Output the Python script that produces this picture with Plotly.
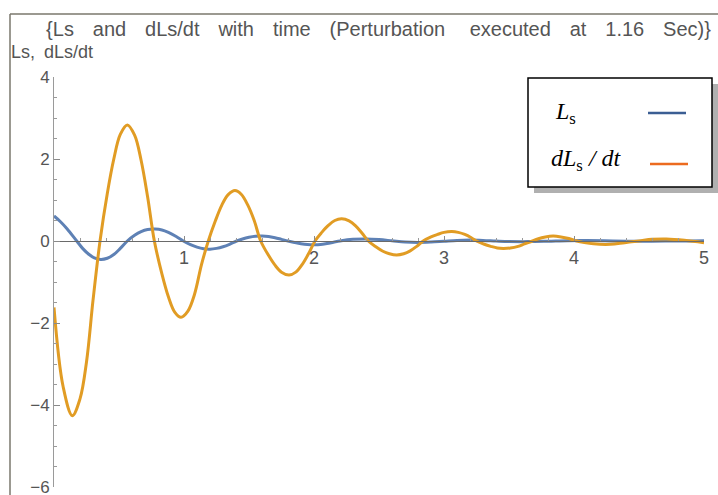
import plotly.graph_objects as go

# ---- data ----
t_ls = [0.0, 0.05, 0.10, 0.175, 0.22, 0.27, 0.31, 0.36, 0.41, 0.46, 0.51, 0.564,
        0.62, 0.67, 0.72, 0.777, 0.83, 0.88, 0.94, 0.995, 1.05, 1.10, 1.15, 1.20,
        1.25, 1.30, 1.35, 1.405, 1.45, 1.50, 1.55, 1.60, 1.65, 1.70, 1.75, 1.80,
        1.85, 1.90, 1.95, 2.00, 2.05, 2.10, 2.15, 2.20, 2.30, 2.40, 2.50, 2.60,
        2.70, 2.80, 2.90, 3.00, 3.10, 3.20, 3.30, 3.40, 3.50, 3.65, 3.80, 3.95,
        4.10, 4.30, 4.50, 4.70, 4.90, 5.00]
ls_vals = [0.61, 0.47, 0.30, 0.0, -0.18, -0.33, -0.41, -0.45, -0.42, -0.33, -0.18, 0.0,
           0.14, 0.23, 0.28, 0.29, 0.27, 0.21, 0.11, 0.0, -0.09, -0.15, -0.19, -0.20,
           -0.18, -0.14, -0.08, 0.0, 0.05, 0.09, 0.115, 0.12, 0.11, 0.08, 0.04, 0.0,
           -0.035, -0.065, -0.085, -0.09, -0.085, -0.06, -0.03, 0.0, 0.04, 0.05, 0.035, 0.005,
           -0.025, -0.035, -0.025, -0.005, 0.015, 0.022, 0.015, 0.0, -0.012, -0.015, -0.005, 0.008,
           0.01, 0.0, -0.006, -0.003, 0.003, 0.004]

t_dls = [0.0, 0.07, 0.141, 0.20, 0.25, 0.30, 0.354, 0.41, 0.46, 0.51, 0.564, 0.62,
         0.67, 0.72, 0.772, 0.83, 0.88, 0.93, 0.977, 1.03, 1.08, 1.135, 1.187, 1.24,
         1.29, 1.34, 1.392, 1.44, 1.49, 1.54, 1.59, 1.65, 1.70, 1.75, 1.808, 1.86,
         1.91, 1.96, 2.008, 2.06, 2.11, 2.16, 2.213, 2.27, 2.32, 2.37, 2.418, 2.47,
         2.53, 2.58, 2.636, 2.69, 2.74, 2.79, 2.84, 2.90, 2.95, 3.00, 3.06, 3.11,
         3.16, 3.21, 3.25, 3.31, 3.36, 3.41, 3.456, 3.51, 3.57, 3.62, 3.68, 3.72,
         3.78, 3.84, 3.90, 3.96, 4.02, 4.08, 4.15, 4.28, 4.39, 4.50, 4.60, 4.71,
         4.85, 5.00]
dls_vals = [-1.62, -3.55, -4.26, -3.85, -2.95, -1.45, 0.0, 1.16, 2.0, 2.6, 2.83, 2.58,
            1.97, 1.08, 0.0, -0.8, -1.36, -1.74, -1.86, -1.71, -1.31, -0.57, 0.0, 0.48,
            0.87, 1.13, 1.23, 1.14, 0.88, 0.5, 0.0, -0.35, -0.59, -0.76, -0.83, -0.76,
            -0.57, -0.3, 0.0, 0.21, 0.38, 0.5, 0.54, 0.49, 0.37, 0.19, 0.0, -0.13,
            -0.25, -0.31, -0.34, -0.31, -0.24, -0.13, 0.0, 0.1, 0.16, 0.21, 0.23, 0.21,
            0.16, 0.08, 0.0, -0.08, -0.13, -0.17, -0.18, -0.17, -0.13, -0.07, 0.0, 0.05,
            0.1, 0.12, 0.1, 0.06, 0.0, -0.04, -0.07, -0.08, -0.04, 0.0, 0.04, 0.05,
            0.02, -0.04]

x_ticks = [1, 2, 3, 4, 5]
y_ticks = [-6, -4, -2, 0, 2, 4]
y_ticktext = ["\u22126", "\u22124", "\u22122", "0", "2", "4"]

title_words = ["{Ls", "and", "dLs/dt", "with", "time", "(Perturbation\u00a0", "executed", "at", "1.16", "Sec)}"]
ylabel_text = "Ls,\u2002dLs/dt"
legend_names = ["<i>L</i><sub>s</sub>", "<i>dL</i><sub>s</sub><i> / dt</i>"]

# ---- styling ----
W, H = 718, 495
L, R, T, B = 54, 14, 77, 8
pw, ph = W - L - R, H - T - B
blue, orange = "#5E81B5", "#E19C24"
leg_blue, leg_orange = "#3B5E93", "#EC6B1F"
gray = "#555555"
gap = "\u2002\u00a0\u200a\u200a"  # wide word gap as in the reference rendering
title_text = gap.join(title_words)


def px(x):
    return (x - L) / pw


def py(y):
    return (H - B - y) / ph


fig = go.Figure()
fig.add_trace(go.Scatter(x=t_ls, y=ls_vals, mode="lines", line=dict(color=blue, width=3, shape="spline", smoothing=1.0), showlegend=False))
fig.add_trace(go.Scatter(x=t_dls, y=dls_vals, mode="lines", line=dict(color=orange, width=3, shape="spline", smoothing=1.0), showlegend=False))

shapes = []
# outer frame (top and left edges)
shapes.append(dict(type="line", xref="paper", yref="paper", x0=px(10), x1=px(720), y0=py(14), y1=py(14), line=dict(color="#7a776c", width=1.5)))
shapes.append(dict(type="line", xref="paper", yref="paper", x0=px(10), x1=px(10), y0=py(14), y1=py(497), line=dict(color="#7a776c", width=1.5)))
# legend shadow and box
shapes.append(dict(type="rect", xref="paper", yref="paper", x0=px(534), x1=px(718), y0=py(84), y1=py(193), line=dict(width=0), fillcolor="#b0b0b0", layer="above"))
shapes.append(dict(type="rect", xref="paper", yref="paper", x0=px(528), x1=px(712), y0=py(78), y1=py(187), line=dict(color="black", width=1.5), fillcolor="white", layer="above"))
shapes.append(dict(type="line", xref="paper", yref="paper", x0=px(648), x1=px(686), y0=py(113), y1=py(113), line=dict(color=leg_blue, width=2.5), layer="above"))
shapes.append(dict(type="line", xref="paper", yref="paper", x0=px(650), x1=px(688), y0=py(164), y1=py(164), line=dict(color=leg_orange, width=2.5), layer="above"))

annotations = [
    dict(text=ylabel_text, xref="paper", yref="paper", x=px(9), y=py(52), xanchor="left", yanchor="middle", showarrow=False, font=dict(family="Liberation Sans", size=18, color=gray)),
    dict(text=legend_names[0], xref="paper", yref="paper", x=px(553), y=py(113), xanchor="left", yanchor="middle", showarrow=False, font=dict(family="Liberation Serif", size=24, color="black")),
    dict(text=legend_names[1], xref="paper", yref="paper", x=px(549), y=py(160), xanchor="left", yanchor="middle", showarrow=False, font=dict(family="Liberation Serif", size=24, color="black")),
]

fig.update_layout(
    width=W, height=H,
    margin=dict(l=L, r=R, t=T, b=B, pad=0, autoexpand=False),
    paper_bgcolor="white", plot_bgcolor="white",
    title=dict(text=title_text, x=378.5 / W, y=1 - 29 / H, xref="container", yref="container", xanchor="center", yanchor="middle",
               font=dict(family="Liberation Sans", size=20, color=gray)),
    shapes=shapes, annotations=annotations,
    showlegend=False,
    xaxis=dict(range=[0, 5], anchor="free", position=0.6, showgrid=False, zeroline=False, automargin=False,
               showline=True, linecolor="#6a6a6a", linewidth=1,
               tickmode="array", tickvals=x_ticks, ticks="inside", ticklen=5, tickcolor="#8a8a8a",
               minor=dict(dtick=0.2, tick0=0, ticks="inside", ticklen=3, tickcolor="#9a9a9a"),
               tickfont=dict(family="Liberation Sans", size=18, color=gray)),
    yaxis=dict(range=[-6, 4], showgrid=False, zeroline=False, showline=True, linecolor="#9a9a9a", linewidth=1,
               automargin=False,
               tickmode="array", tickvals=y_ticks, ticktext=y_ticktext, ticks="inside", ticklen=6, tickcolor="#8a8a8a",
               ticklabeloverflow="allow",
               minor=dict(dtick=0.5, tick0=0, ticks="inside", ticklen=3, tickcolor="#9a9a9a"),
               tickfont=dict(family="Liberation Sans", size=17, color=gray)),
)

fig.write_html("out.html")
